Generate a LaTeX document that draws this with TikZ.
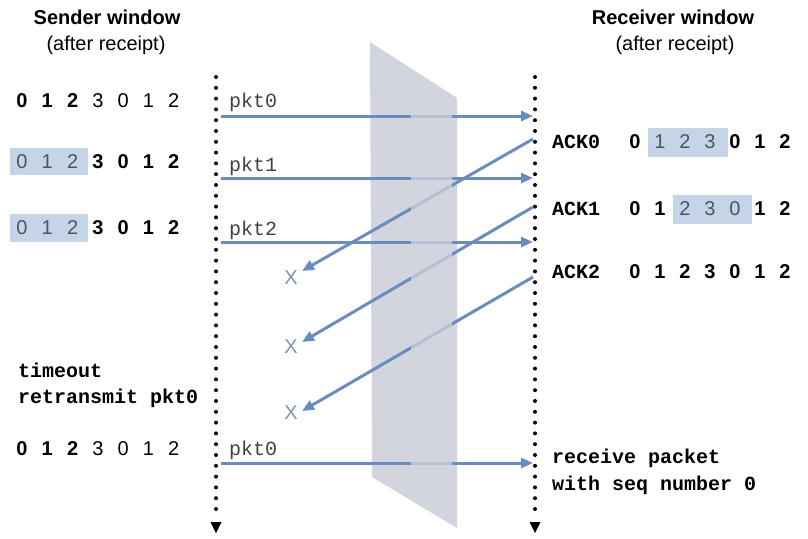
\documentclass[tikz,border=0pt]{standalone}
\usepackage{fontspec}
\setmainfont{Liberation Sans}
\newfontfamily\monof{Liberation Mono}
\usetikzlibrary{arrows.meta}
\definecolor{arrowblue}{HTML}{6A8DC0}
\definecolor{planegray}{HTML}{D2D5DE}
\definecolor{winbox}{HTML}{C6D4E7}
\definecolor{xgray}{HTML}{8093AC}
\definecolor{boxdigitcol}{HTML}{4A5566}
\begin{document}
\begin{tikzpicture}[x=1pt,y=-1pt,
  title/.style={font=\fontsize{20}{24}\selectfont\bfseries, inner sep=0},
  sub/.style={font=\fontsize{20}{24}\selectfont, inner sep=0},
  dg/.style={font=\fontsize{20}{24}\selectfont\bfseries, inner sep=0},
  pl/.style={font=\fontsize{20}{24}\selectfont, text=black, inner sep=0},
  bx/.style={font=\fontsize{20}{24}\selectfont, text=boxdigitcol, inner sep=0},
  mono/.style={font=\fontsize{20}{24}\selectfont\monof\bfseries, anchor=west, inner sep=0},
  pktlabel/.style={font=\fontsize{20}{24}\selectfont\monof, text=black!75, anchor=west, inner sep=0},
  timeline/.style={line width=4, dash pattern=on 0pt off 10.8pt, line cap=round},
  msg/.style={arrowblue, line width=3, -{Triangle[length=12,width=10]}},
  lost/.style={font=\fontsize{20}{24}\selectfont, text=xgray, inner sep=0},
  win/.style={fill=winbox}
]
\useasboundingbox (0,0) rectangle (808,538);

% titles
\node[title] (st) at (107,17) {Sender window};
\node[sub] (ss) at (106,45) {(after receipt)};
\node[title] (rt) at (673,17) {Receiver window};
\node[sub] (rs) at (675,45) {(after receipt)};

% plane
\fill[planegray] (370,42) -- (457,98) -- (457,528) -- (372,477) -- cycle;

% window boxes
\fill[win] (10,148) rectangle (88,175);
\fill[win] (10,214) rectangle (88,242);
\fill[win] (648,128) rectangle (728,157);
\fill[win] (673,195) rectangle (752,224);

% timelines
\coordinate (L0) at (216,77);
\coordinate (L1) at (216,516);
\coordinate (R0) at (535,77);
\coordinate (R1) at (535,516);
\draw[timeline] (L0) -- (L1);
\draw[timeline] (R0) -- (R1);
\fill (L1) ++(-5.5,6) -- ++(11,0) -- ++(-5.5,11) -- cycle;
\fill (R1) ++(-5.5,6) -- ++(11,0) -- ++(-5.5,11) -- cycle;

% sender rows
\foreach \d/\s [count=\i] in {0/dg,1/dg,2/dg,3/pl,0/pl,1/pl,2/pl}
  \node[\s] (sa\i) at ({22+25.3*(\i-1)},101) {\d};
\foreach \d/\s [count=\i] in {0/bx,1/bx,2/bx,3/dg,0/dg,1/dg,2/dg}
  \node[\s] (sb\i) at ({22+25.3*(\i-1)},162) {\d};
\foreach \d/\s [count=\i] in {0/bx,1/bx,2/bx,3/dg,0/dg,1/dg,2/dg}
  \node[\s] (sc\i) at ({22+25.3*(\i-1)},228) {\d};
\foreach \d/\s [count=\i] in {0/dg,1/dg,2/dg,3/pl,0/pl,1/pl,2/pl}
  \node[\s] (sd\i) at ({22+25.3*(\i-1)},449) {\d};

% receiver rows
\foreach \d/\s [count=\i] in {0/dg,1/bx,2/bx,3/bx,0/dg,1/dg,2/dg}
  \node[\s] (ra\i) at ({635+25*(\i-1)},142) {\d};
\foreach \d/\s [count=\i] in {0/dg,1/dg,2/bx,3/bx,0/bx,1/dg,2/dg}
  \node[\s] (rb\i) at ({635+25*(\i-1)},209) {\d};
\foreach \d/\s [count=\i] in {0/dg,1/dg,2/dg,3/dg,0/dg,1/dg,2/dg}
  \node[\s] (rc\i) at ({635+25*(\i-1)},272) {\d};

% ACK labels
\node[mono] (ack0) at (552,142) {ACK0};
\node[mono] (ack1) at (552,209) {ACK1};
\node[mono] (ack2) at (552,272) {ACK2};

% other texts
\node[mono] (to) at (18,370) {timeout};
\node[mono] (rp) at (18,398) {retransmit pkt0};
\node[mono] (rcv1) at (552,458) {receive packet};
\node[mono] (rcv2) at (552,485) {with seq number 0};

% packet labels
\node[pktlabel] (p0) at (229,102) {pkt0};
\node[pktlabel] (p1) at (229,166) {pkt1};
\node[pktlabel] (p2) at (229,230) {pkt2};
\node[pktlabel] (p3) at (229,450) {pkt0};

% packet endpoints
\coordinate (a0) at (221,116); \coordinate (b0) at (533,116);
\coordinate (a1) at (221,178); \coordinate (b1) at (533,178);
\coordinate (a2) at (221,242); \coordinate (b2) at (533,242);
\coordinate (a3) at (221,463); \coordinate (b3) at (533,463);
\draw[msg] (a0) -- (b0);
\draw[msg] (a1) -- (b1);
\draw[msg] (a2) -- (b2);
\draw[msg] (a3) -- (b3);

% ACKs lost
\node[lost] (x0) at (291,278) {X};
\node[lost] (x1) at (291,347) {X};
\node[lost] (x2) at (291,413) {X};
\coordinate (c0) at (533,139); \coordinate (d0) at (302,271);
\coordinate (c1) at (533,207); \coordinate (d1) at (302,342);
\coordinate (c2) at (533,277); \coordinate (d2) at (302,411);
\draw[msg] (c0) -- (d0);
\draw[msg] (c1) -- (d1);
\draw[msg] (c2) -- (d2);

% translucent part of plane covering arrows
\fill[planegray, opacity=0.72] (411,69) -- (452,95) -- (452,525) -- (411,500) -- cycle;
\end{tikzpicture}
\end{document}
